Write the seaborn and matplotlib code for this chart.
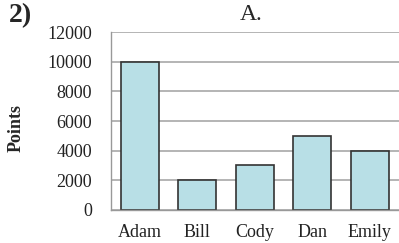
import matplotlib
matplotlib.use("Agg")
import matplotlib.pyplot as plt
import seaborn as sns
import pandas as pd
import numpy as np

names = ["Adam", "Bill", "Cody", "Dan", "Emily"]
points = [10000, 2000, 3000, 5000, 4000]
yticks = [0, 2000, 4000, 6000, 8000, 10000, 12000]

sns.set_style("white")
plt.rcParams['font.family'] = ['Liberation Serif', 'DejaVu Serif']

df = pd.DataFrame({"name": names, "points": points})

fig = plt.figure(figsize=(3.99, 2.43), dpi=100)
ax = fig.add_axes([0.278, 0.136, 0.721, 0.732])
sns.barplot(data=df, x="name", y="points", ax=ax, color="#b8dfe6",
            saturation=1, edgecolor="#333333", linewidth=1.2, width=0.66)

ax.set_ylim(0, 12000)
ax.set_xlim(-0.5, len(names) - 0.5)
ax.set_yticks(yticks)
ax.set_yticklabels([str(v) for v in yticks], fontsize=13, color="#222222")
ax.set_xticks(range(len(names)))
ax.set_xticklabels(names, fontsize=13, color="#222222")
ax.set_xticks(np.arange(-0.5, len(names), 1.0), minor=True)
ax.tick_params(axis="x", which="major", length=0, pad=10)
ax.tick_params(axis="x", which="minor", length=4, color="#999999", width=1)
ax.tick_params(axis="y", which="major", length=4.5, color="#999999", width=1, pad=9)
ax.yaxis.grid(True, color="#a8a8a8", linewidth=1.2)
ax.set_axisbelow(True)
for s in ["top", "right"]:
    ax.spines[s].set_visible(False)
for s in ["left", "bottom"]:
    ax.spines[s].set_color("#999999")
    ax.spines[s].set_linewidth(1)
ax.set_xlabel("")
ax.set_ylabel("")

fig.text(20 / 399, 1 - 16 / 243, "2)", fontsize=20, fontweight="bold", ha="center", va="center")
fig.text(16 / 399, 1 - 128 / 243, "Points", fontsize=13, fontweight="bold", rotation=90,
         ha="center", va="center")
fig.text(251 / 399, 1 - 14 / 243, "A.", fontsize=17, ha="center", va="center")

fig.savefig("out.png", dpi=100)
